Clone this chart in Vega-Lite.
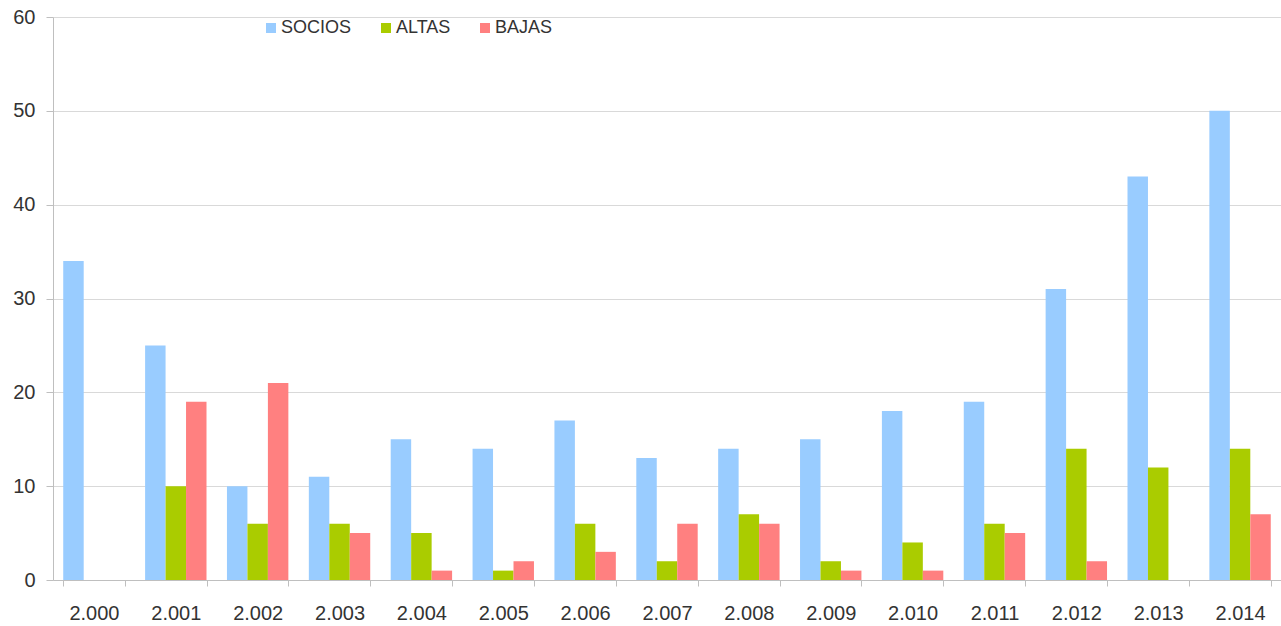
{
  "$schema": "https://vega.github.io/schema/vega-lite/v6.json",
  "width": 1228,
  "height": 563,
  "autosize": "none",
  "padding": {"left": 53, "top": 17, "right": 0, "bottom": 46},
  "background": "white",
  "config": {
    "font": "Liberation Sans",
    "view": {"stroke": null}
  },
  "data": {
    "values": [
      {"year": "2.000", "serie": "SOCIOS", "value": 34},
      {"year": "2.000", "serie": "ALTAS", "value": 0},
      {"year": "2.000", "serie": "BAJAS", "value": 0},
      {"year": "2.001", "serie": "SOCIOS", "value": 25},
      {"year": "2.001", "serie": "ALTAS", "value": 10},
      {"year": "2.001", "serie": "BAJAS", "value": 19},
      {"year": "2.002", "serie": "SOCIOS", "value": 10},
      {"year": "2.002", "serie": "ALTAS", "value": 6},
      {"year": "2.002", "serie": "BAJAS", "value": 21},
      {"year": "2.003", "serie": "SOCIOS", "value": 11},
      {"year": "2.003", "serie": "ALTAS", "value": 6},
      {"year": "2.003", "serie": "BAJAS", "value": 5},
      {"year": "2.004", "serie": "SOCIOS", "value": 15},
      {"year": "2.004", "serie": "ALTAS", "value": 5},
      {"year": "2.004", "serie": "BAJAS", "value": 1},
      {"year": "2.005", "serie": "SOCIOS", "value": 14},
      {"year": "2.005", "serie": "ALTAS", "value": 1},
      {"year": "2.005", "serie": "BAJAS", "value": 2},
      {"year": "2.006", "serie": "SOCIOS", "value": 17},
      {"year": "2.006", "serie": "ALTAS", "value": 6},
      {"year": "2.006", "serie": "BAJAS", "value": 3},
      {"year": "2.007", "serie": "SOCIOS", "value": 13},
      {"year": "2.007", "serie": "ALTAS", "value": 2},
      {"year": "2.007", "serie": "BAJAS", "value": 6},
      {"year": "2.008", "serie": "SOCIOS", "value": 14},
      {"year": "2.008", "serie": "ALTAS", "value": 7},
      {"year": "2.008", "serie": "BAJAS", "value": 6},
      {"year": "2.009", "serie": "SOCIOS", "value": 15},
      {"year": "2.009", "serie": "ALTAS", "value": 2},
      {"year": "2.009", "serie": "BAJAS", "value": 1},
      {"year": "2.010", "serie": "SOCIOS", "value": 18},
      {"year": "2.010", "serie": "ALTAS", "value": 4},
      {"year": "2.010", "serie": "BAJAS", "value": 1},
      {"year": "2.011", "serie": "SOCIOS", "value": 19},
      {"year": "2.011", "serie": "ALTAS", "value": 6},
      {"year": "2.011", "serie": "BAJAS", "value": 5},
      {"year": "2.012", "serie": "SOCIOS", "value": 31},
      {"year": "2.012", "serie": "ALTAS", "value": 14},
      {"year": "2.012", "serie": "BAJAS", "value": 2},
      {"year": "2.013", "serie": "SOCIOS", "value": 43},
      {"year": "2.013", "serie": "ALTAS", "value": 12},
      {"year": "2.013", "serie": "BAJAS", "value": 0},
      {"year": "2.014", "serie": "SOCIOS", "value": 50},
      {"year": "2.014", "serie": "ALTAS", "value": 14},
      {"year": "2.014", "serie": "BAJAS", "value": 7}
    ]
  },
  "mark": {"type": "bar"},
  "encoding": {
    "x": {
      "field": "year",
      "type": "nominal",
      "sort": null,
      "scale": {"paddingInner": 0.25, "paddingOuter": 0.125},
      "axis": {
        "title": null,
        "labelAngle": 0,
        "tickBand": "extent",
        "domainColor": "#BFBFBF",
        "tickColor": "#BFBFBF",
        "tickSize": 6,
        "labelFontSize": 20,
        "labelColor": "#333333",
        "labelPadding": 17,
        "grid": false
      }
    },
    "xOffset": {
      "field": "serie",
      "type": "nominal",
      "sort": ["SOCIOS", "ALTAS", "BAJAS"],
      "scale": {"paddingInner": 0, "paddingOuter": 0}
    },
    "y": {
      "field": "value",
      "type": "quantitative",
      "scale": {"domain": [0, 60], "nice": false},
      "axis": {
        "title": null,
        "values": [0, 10, 20, 30, 40, 50, 60],
        "grid": true,
        "gridColor": "#D9D9D9",
        "domainColor": "#BFBFBF",
        "tickColor": "#BFBFBF",
        "tickSize": 7,
        "labelFontSize": 20,
        "labelColor": "#333333",
        "labelPadding": 11
      }
    },
    "color": {
      "field": "serie",
      "type": "nominal",
      "sort": ["SOCIOS", "ALTAS", "BAJAS"],
      "scale": {"domain": ["SOCIOS", "ALTAS", "BAJAS"], "range": ["#99CCFF", "#AACC00", "#FF8080"]},
      "legend": {
        "title": null,
        "orient": "none",
        "direction": "horizontal",
        "legendX": 209,
        "legendY": 2,
        "padding": 0,
        "symbolType": "square",
        "symbolSize": 100,
        "symbolStrokeWidth": 0,
        "symbolOpacity": 1,
        "labelFontSize": 18,
        "labelColor": "#333333",
        "labelOffset": 1,
        "columnPadding": 25
      }
    }
  }
}
